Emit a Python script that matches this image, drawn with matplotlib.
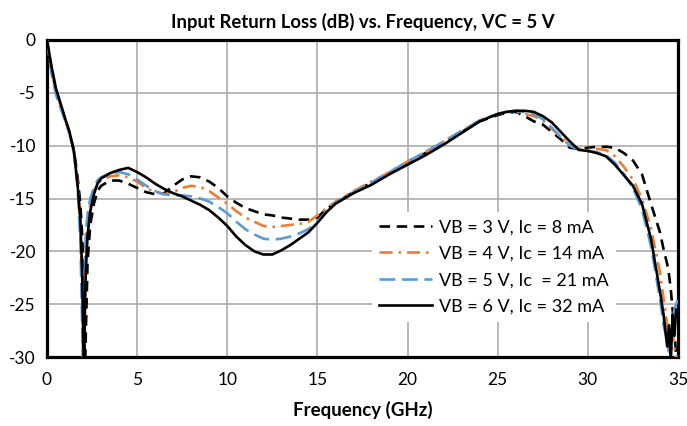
import matplotlib
matplotlib.use("Agg")
import matplotlib.pyplot as plt

freq = [0, 0.25, 0.5, 0.75, 1.0, 1.25, 1.5, 1.7, 1.85, 1.95, 2.0, 2.05, 2.1, 2.15, 2.25, 2.4, 2.6, 2.8,
        3.0, 3.5, 4.0, 4.5, 5.0, 5.5, 6.0, 6.5, 7.0, 7.5, 8.0, 8.5, 9.0, 9.5, 10, 10.5, 11, 11.5, 12,
        12.5, 13, 13.5, 14, 14.5, 15, 15.5, 16, 17, 18, 19, 20, 21, 22, 23, 24, 25, 25.5, 26, 26.5, 27,
        27.5, 28, 28.5, 29, 29.5, 30, 30.5, 31, 31.5, 32, 32.5, 33, 33.5, 34, 34.2, 34.4, 34.5, 34.6,
        34.7, 34.8, 34.9, 35]

rl_vb3 = [0, -2.8, -4.8, -6.1, -7.5, -8.8, -10.5, -13.0, -15.5, -18.5, -21, -25, -32, -28, -21, -17.5,
          -15.5, -14.3, -13.8, -13.3, -13.3, -13.6, -14.0, -14.4, -14.6, -14.5, -13.8, -13.2, -12.9,
          -13.0, -13.4, -14.0, -14.8, -15.4, -15.9, -16.2, -16.5, -16.6, -16.8, -16.9, -17.0, -17.0,
          -16.8, -16.0, -15.4, -14.4, -13.5, -12.6, -11.6, -10.7, -9.7, -8.7, -7.7, -7.1, -6.9, -6.8,
          -7.2, -7.7, -8.0, -8.7, -9.4, -10.2, -10.3, -10.2, -10.1, -10.1, -10.2, -10.7, -11.4, -12.7,
          -15.5, -18.2, -19.8, -21.2, -22.2, -23.6, -25.5, -27.5, -30, -31]

rl_vb4 = [0, -2.9, -4.9, -6.2, -7.5, -8.8, -10.6, -13.5, -17.5, -24, -32, -27, -22, -19.5, -17, -15.5,
          -14.3, -13.6, -13.3, -12.9, -12.8, -13.0, -13.4, -14.0, -14.4, -14.6, -14.4, -14.0, -13.8,
          -13.9, -14.3, -14.9, -15.5, -16.2, -16.8, -17.2, -17.6, -17.7, -17.6, -17.5, -17.4, -17.2,
          -16.6, -15.9, -15.3, -14.3, -13.4, -12.5, -11.5, -10.6, -9.6, -8.6, -7.6, -7.0, -6.8, -6.8,
          -7.0, -7.2, -7.6, -8.4, -9.2, -9.9, -10.3, -10.4, -10.3, -10.4, -11.0, -12.0, -13.2, -15.0,
          -17.8, -22, -24.5, -27, -28.5, -29.5, -27.5, -29, -30.5, -29.5]

rl_vb5 = [0, -3.2, -5.2, -6.4, -7.6, -8.9, -10.8, -14, -19, -27, -32, -26, -21, -18.5, -16.5, -15,
          -14, -13.3, -13.0, -12.6, -12.5, -12.7, -13.2, -13.8, -14.3, -14.6, -14.7, -14.7, -14.8,
          -15.0, -15.3, -15.8, -16.4, -17.2, -17.9, -18.4, -18.8, -18.9, -18.8, -18.6, -18.3, -17.9,
          -17.2, -16.2, -15.4, -14.4, -13.5, -12.5, -11.5, -10.6, -9.6, -8.6, -7.6, -7.0, -6.8, -6.7,
          -6.8, -7.0, -7.5, -8.3, -9.2, -10.0, -10.4, -10.5, -10.6, -10.9, -11.6, -12.7, -14.0, -16.0,
          -19.5, -24.5, -27, -28.5, -29.5, -28, -26.5, -25.5, -25, -24.5]

rl_vb6 = [0, -2.5, -4.6, -6.0, -7.4, -8.7, -10.6, -13.8, -17, -22, -27, -32, -26, -22, -18.5, -16.2,
          -14.6, -13.6, -13.1, -12.6, -12.3, -12.1, -12.5, -13.0, -13.6, -14.1, -14.5, -14.8, -15.2,
          -15.6, -16.1, -16.8, -17.6, -18.6, -19.4, -20.0, -20.3, -20.3, -19.9, -19.4, -18.8, -18.2,
          -17.3, -16.3, -15.5, -14.5, -13.7, -12.7, -11.8, -10.9, -9.9, -8.8, -7.7, -7.0, -6.8, -6.7,
          -6.7, -6.8, -7.2, -7.8, -8.7, -9.6, -10.4, -10.5, -10.7, -11.0, -11.8, -12.8, -13.8, -15.5,
          -18.8, -23.8, -26, -29, -27, -30.5, -26, -28, -25.5, -26]

labels = ["VB = 3 V, Ic = 8 mA", "VB = 4 V, Ic = 14 mA", "VB = 5 V, Ic  = 21 mA", "VB = 6 V, Ic = 32 mA"]
x_ticks = [0, 5, 10, 15, 20, 25, 30, 35]
y_ticks = [0, -5, -10, -15, -20, -25, -30]

plt.rcParams['font.family'] = ['Lato', 'DejaVu Sans']

fig = plt.figure(figsize=(6.87, 4.26), dpi=100)
ax = fig.add_axes([47/687, 1-357/426, (678-47)/687, (357-40)/426])

lw = 1.9
ax.plot(freq, rl_vb3, color='black', lw=lw, dashes=(4, 2.5), label=labels[0], zorder=3)
ax.plot(freq, rl_vb4, color='#ED7D31', lw=lw, dashes=(5, 2.2, 1, 2.2), label=labels[1], zorder=3)
ax.plot(freq, rl_vb5, color='#5B9BD5', lw=lw, dashes=(6, 2.5), label=labels[2], zorder=3)
ax.plot(freq, rl_vb6, color='black', lw=lw, label=labels[3], zorder=4)

ax.set_xlim(0, 35)
ax.set_ylim(-30, 0)
ax.set_xticks(x_ticks)
ax.set_yticks(y_ticks)
ax.set_xticklabels([str(v) for v in x_ticks])
ax.set_yticklabels([str(v) for v in y_ticks])
ax.grid(True, color='#A6A6A6', lw=1.1)
ax.set_axisbelow(True)
ax.tick_params(length=0, labelsize=12.5, pad=8)
ax.tick_params(axis='x', pad=11)
for s in ax.spines.values():
    s.set_linewidth(2.3)
    s.set_color('black')

ax.set_title("Input Return Loss (dB) vs. Frequency, VC = 5 V", fontsize=13.3, fontweight='bold', pad=9)
ax.set_xlabel("Frequency (GHz)", fontsize=13.5, fontweight='bold', labelpad=9)

leg = ax.legend(loc='upper left', bbox_to_anchor=(372/687, 1-212/426), bbox_transform=fig.transFigure,
                fontsize=13, frameon=True, fancybox=False, handlelength=2.95, handletextpad=0.35,
                labelspacing=0.58, borderaxespad=0, borderpad=0.4)
leg.get_frame().set_facecolor('white')
leg.get_frame().set_edgecolor('none')
leg.get_frame().set_alpha(1)
leg.set_zorder(5)

fig.savefig("out.png", dpi=100)
